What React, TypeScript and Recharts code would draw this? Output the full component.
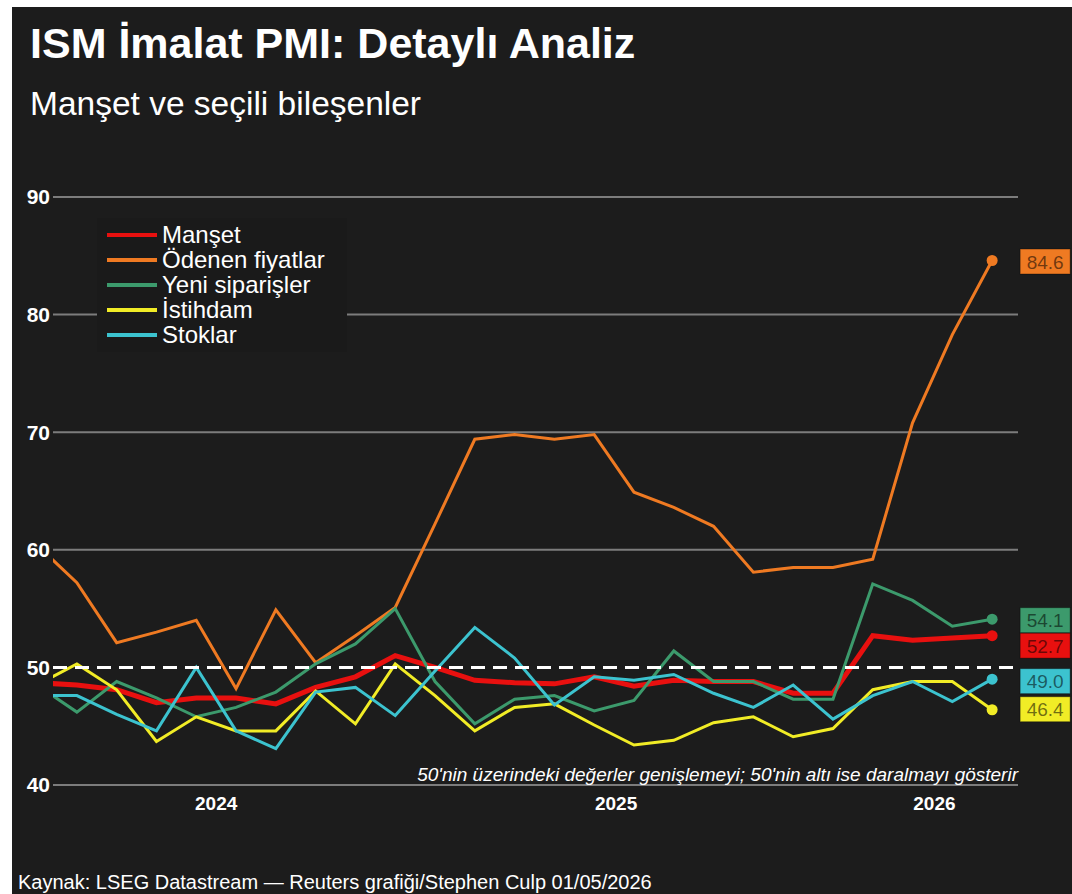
import React from 'react';
import { LineChart, Line, XAxis, YAxis, ReferenceLine, ReferenceDot, Legend } from 'recharts';

// ---- data ----
const monthIndex = [0, 1, 2, 3, 4, 5, 6, 7, 8, 9, 10, 11, 12, 13, 14, 15, 16, 17, 18, 19, 20, 21, 22, 23, 24];
const headline = [48.7, 48.5, 48.1, 47.0, 47.4, 47.4, 46.9, 48.3, 49.2, 51.0, 50.0, 48.9, 48.7, 48.6, 49.2, 48.4, 48.9, 48.8, 48.8, 47.8, 47.8, 52.7, 52.3, 52.5, 52.7];
const pricesPaid = [60.4, 57.2, 52.1, 53.0, 54.0, 48.2, 54.9, 50.4, 52.7, 55.1, 62.2, 69.4, 69.8, 69.4, 69.8, 64.9, 63.6, 62.0, 58.1, 58.5, 58.5, 59.2, 70.8, 78.3, 84.6];
const newOrders = [48.5, 46.2, 48.8, 47.4, 45.8, 46.6, 47.9, 50.3, 52.0, 55.0, 48.8, 45.2, 47.3, 47.6, 46.3, 47.2, 51.4, 48.8, 48.8, 47.3, 47.3, 57.1, 55.7, 53.5, 54.1];
const employment = [48.5, 50.3, 48.1, 43.7, 45.8, 44.6, 44.6, 48.0, 45.2, 50.3, 47.6, 44.6, 46.6, 46.9, 45.1, 43.4, 43.8, 45.3, 45.8, 44.1, 44.8, 48.1, 48.8, 48.8, 46.4];
const inventories = [47.6, 47.6, 46.0, 44.6, 50.0, 44.6, 43.1, 47.9, 48.3, 45.9, 49.7, 53.4, 50.8, 46.8, 49.2, 48.9, 49.4, 47.8, 46.6, 48.5, 45.6, 47.6, 48.8, 47.1, 49.0];

const yAxisTicks = [40, 50, 60, 70, 80, 90];
const gridValues = [40, 60, 70, 80, 90];
const expansionLevel = 50;
const yearTicks = [4.5, 14.55, 22.55];
const yearLabels = ['2024', '2025', '2026'];

const seriesNames = ['Manşet', 'Ödenen fiyatlar', 'Yeni siparişler', 'İstihdam', 'Stoklar'];
const seriesKeys = ['headline', 'pricesPaid', 'newOrders', 'employment', 'inventories'];
const seriesValues = [headline, pricesPaid, newOrders, employment, inventories];

// ---- styles ----
const seriesColors = ['#e8100f', '#ef7a22', '#3c9a6c', '#f1ec26', '#3cc3cf'];
const seriesWidths = [5, 3, 3, 3, 3];
const labelShifts = [10, 1, 1, -0.5, 2];

const FONT = '"Liberation Sans", Arial, Helvetica, sans-serif';
const BG = '#1c1c1c';

const data = monthIndex.map((t, i) => {
  const row: Record<string, number> = { t };
  seriesKeys.forEach((k, j) => {
    row[k] = seriesValues[j][i];
  });
  return row;
});

const lastIdx = monthIndex.length - 1;

const makeEndMarker = (color: string, shift: number, value: number) => (props: any) => {
  const { cx, cy } = props;
  if (cx == null || cy == null) return <g />;
  const bx = cx + 28;
  const by = cy + shift;
  return (
    <g>
      <circle cx={cx} cy={cy} r={5.5} fill={color} />
      <rect x={bx} y={by - 12.5} width={50} height={25} fill={color} stroke="rgba(0,0,0,0.35)" strokeWidth={1} />
      <text
        x={bx + 25}
        y={by + 7}
        textAnchor="middle"
        fontSize={19}
        fontFamily={FONT}
        fill="rgba(0,0,0,0.55)"
      >
        {value.toFixed(1)}
      </text>
    </g>
  );
};

const renderLegend = () => (
  <div
    style={{
      background: '#1a1a1a',
      padding: '4px 10px',
      width: 250,
      height: 134,
      boxSizing: 'border-box',
    }}
  >
    {seriesNames.map((name, i) => (
      <div key={name} style={{ display: 'flex', alignItems: 'center', height: 25 }}>
        <span style={{ display: 'inline-block', width: 50, height: 4, background: seriesColors[i], marginRight: 5 }} />
        <span style={{ color: '#ffffff', fontSize: 24, lineHeight: '25px', fontFamily: FONT, whiteSpace: 'nowrap' }}>{name}</span>
      </div>
    ))}
  </div>
);

export default function App() {
  return (
    <div style={{ position: 'absolute', left: 0, top: 0, width: 1072, height: 894, background: '#ffffff', overflow: 'hidden', fontFamily: FONT }}>
      <div style={{ position: 'absolute', left: 12, top: 7, right: 0, bottom: 0, background: BG }} />
      <div style={{ position: 'absolute', left: 30, top: 22, fontSize: 43, lineHeight: '43px', fontWeight: 'bold', color: '#ffffff', whiteSpace: 'nowrap' }}>
        ISM İmalat PMI: Detaylı Analiz
      </div>
      <div style={{ position: 'absolute', left: 30, top: 87, fontSize: 33.5, lineHeight: '34px', color: '#ffffff', whiteSpace: 'nowrap' }}>
        Manşet ve seçili bileşenler
      </div>
      <div style={{ position: 'absolute', left: 0, top: 0 }}>
        <LineChart width={1072} height={894} data={data} margin={{ top: 197, right: 54, bottom: 79, left: 13 }}>
          {gridValues.map((v) => (
            <ReferenceLine key={v} y={v} stroke="#7c7c7c" strokeWidth={2} />
          ))}
          <XAxis
            dataKey="t"
            type="number"
            domain={[0.4, 24.65]}
            allowDataOverflow
            ticks={yearTicks}
            tickFormatter={(v: number) => yearLabels[yearTicks.indexOf(v)] ?? ''}
            axisLine={false}
            tickLine={false}
            tickSize={0}
            tickMargin={12}
            height={30}
            interval={0}
            tick={{ fill: '#ffffff', fontSize: 19, fontWeight: 'bold', fontFamily: FONT }}
          />
          <YAxis
            type="number"
            domain={[40, 90]}
            ticks={yAxisTicks}
            axisLine={false}
            tickLine={false}
            tickSize={0}
            tickMargin={3}
            width={40}
            interval={0}
            tick={{ fill: '#ffffff', fontSize: 21, fontWeight: 'bold', fontFamily: FONT }}
          />
          <Legend
            layout="vertical"
            align="center"
            verticalAlign="middle"
            content={renderLegend}
            wrapperStyle={{ left: 97, top: 218, width: 250, height: 134 }}
          />
          {seriesKeys.map((k, i) => (
            <Line
              key={k}
              dataKey={k}
              name={seriesNames[i]}
              stroke={seriesColors[i]}
              strokeWidth={seriesWidths[i]}
              dot={false}
              activeDot={false}
              type="linear"
              isAnimationActive={false}
            />
          ))}
          <ReferenceLine y={expansionLevel} stroke="#ffffff" strokeWidth={3} strokeDasharray="14 8" />
          {seriesKeys.map((k, i) => (
            <ReferenceDot
              key={'end-' + k}
              x={monthIndex[lastIdx]}
              y={seriesValues[i][lastIdx]}
              r={5.5}
              ifOverflow="visible"
              shape={makeEndMarker(seriesColors[i], labelShifts[i], seriesValues[i][lastIdx])}
            />
          ))}
        </LineChart>
      </div>
      <div style={{ position: 'absolute', right: 54, top: 765, fontSize: 19, lineHeight: '19px', fontStyle: 'italic', color: '#ffffff', whiteSpace: 'nowrap' }}>
        50'nin üzerindeki değerler genişlemeyi; 50'nin altı ise daralmayı gösterir
      </div>
      <div style={{ position: 'absolute', left: 18, top: 872, fontSize: 20, lineHeight: '20px', color: '#ffffff', whiteSpace: 'nowrap' }}>
        Kaynak: LSEG Datastream — Reuters grafiği/Stephen Culp 01/05/2026
      </div>
    </div>
  );
}
